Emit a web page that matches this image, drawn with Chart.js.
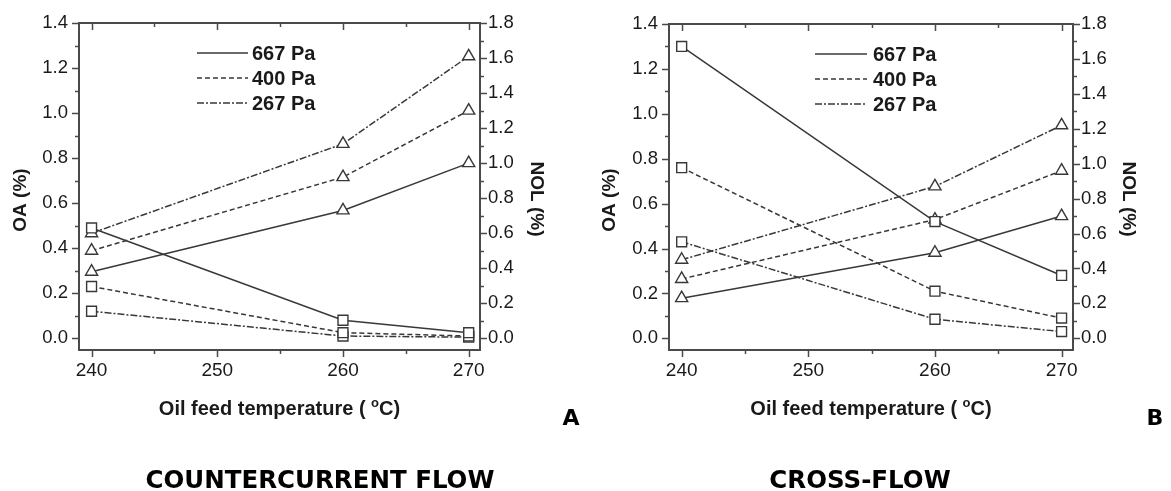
<!DOCTYPE html>
<html>
<head>
<meta charset="utf-8">
<title>OA and NOL vs oil feed temperature</title>
<script src="https://cdn.jsdelivr.net/npm/chart.js@4.4.0/dist/chart.umd.min.js"></script>
<style>
  html, body { margin: 0; padding: 0; background: #fff; }
  #wrap { position: relative; width: 1171px; height: 491px; overflow: hidden; }
  canvas { position: absolute; top: 0; }
  #cA { left: 0; }
  #cB { left: 585px; }
</style>
</head>
<body>
<div id="wrap">
  <canvas id="cA" width="585" height="491"></canvas>
  <canvas id="cB" width="586" height="491"></canvas>
</div>
<script>
// ---- data ----
const temperatures = [240, 260, 270];
const pressures = ['667 Pa', '400 Pa', '267 Pa'];

const xTicks = [240, 250, 260, 270];
const xMinorTicks = [245, 255, 265];
const oaTicks = [0, 0.2, 0.4, 0.6, 0.8, 1.0, 1.2, 1.4];
const oaMinorTicks = [0.1, 0.3, 0.5, 0.7, 0.9, 1.1, 1.3];
const nolTicks = [0, 0.2, 0.4, 0.6, 0.8, 1.0, 1.2, 1.4, 1.6, 1.8];
const nolMinorTicks = [0.1, 0.3, 0.5, 0.7, 0.9, 1.1, 1.3, 1.5, 1.7];

// Countercurrent flow (A)
const oaCounter667 = [0.49, 0.08, 0.025];
const oaCounter400 = [0.23, 0.025, 0.01];
const oaCounter267 = [0.12, 0.01, 0.005];
const nolCounter667 = [0.38, 0.73, 1.00];
const nolCounter400 = [0.50, 0.92, 1.30];
const nolCounter267 = [0.60, 1.11, 1.61];

// Cross-flow (B)
const oaCross667 = [1.30, 0.52, 0.28];
const oaCross400 = [0.76, 0.21, 0.09];
const oaCross267 = [0.43, 0.085, 0.03];
const nolCross667 = [0.23, 0.49, 0.70];
const nolCross400 = [0.34, 0.68, 0.96];
const nolCross267 = [0.45, 0.87, 1.22];

// ---- styling ----
const INK = '#383838';
const AXIS = '#4a4a4a';
const TEXT = '#1a1a1a';
const SANS = "'Liberation Sans', Arial, sans-serif";
const VERD = "'DejaVu Sans', Verdana, sans-serif";
const dashes = [[], [5, 3], [7, 2, 2, 2]];

function pairs(values) {
  return temperatures.map((t, i) => ({ x: t, y: values[i] }));
}

function series(label, values, axis, shape, dash) {
  return {
    label: label,
    data: pairs(values),
    yAxisID: axis,
    borderColor: INK,
    borderWidth: 1.5,
    borderDash: dash,
    pointStyle: shape,
    pointRadius: 7,
    pointHoverRadius: 7,
    pointBorderWidth: 1.4,
    pointBorderColor: INK,
    pointBackgroundColor: '#fff',
    fill: false,
    tension: 0,
    clip: false
  };
}

// Tick marks, legend, axis titles and panel captions
const panelDecor = {
  id: 'panelDecor',
  afterDraw(chart, args, o) {
    const ctx = chart.ctx;
    const a = chart.chartArea;
    const sx = chart.scales.x;
    const sl = chart.scales.yOA;
    const sr = chart.scales.yNOL;
    ctx.save();
    ctx.strokeStyle = AXIS;
    ctx.lineWidth = 1.5;
    const seg = (x1, y1, x2, y2) => {
      ctx.beginPath(); ctx.moveTo(x1, y1); ctx.lineTo(x2, y2); ctx.stroke();
    };
    xTicks.forEach(v => {
      const p = Math.round(sx.getPixelForValue(v)) + 0.5;
      seg(p, a.bottom, p, a.bottom + 7);
      seg(p, a.top, p, a.top + 7);
    });
    xMinorTicks.forEach(v => {
      const p = Math.round(sx.getPixelForValue(v)) + 0.5;
      seg(p, a.bottom, p, a.bottom + 4);
      seg(p, a.top, p, a.top + 4);
    });
    oaTicks.forEach(v => {
      const p = Math.round(sl.getPixelForValue(v)) + 0.5;
      seg(a.left - 7, p, a.left, p);
    });
    oaMinorTicks.forEach(v => {
      const p = Math.round(sl.getPixelForValue(v)) + 0.5;
      seg(a.left - 4, p, a.left, p);
    });
    nolTicks.forEach(v => {
      const p = Math.round(sr.getPixelForValue(v)) + 0.5;
      seg(a.right, p, a.right + 7, p);
    });
    nolMinorTicks.forEach(v => {
      const p = Math.round(sr.getPixelForValue(v)) + 0.5;
      seg(a.right, p, a.right + 4, p);
    });

    // legend (line samples only)
    ctx.fillStyle = TEXT;
    ctx.font = 'bold 20px ' + SANS;
    ctx.textAlign = 'left';
    ctx.textBaseline = 'alphabetic';
    pressures.forEach((name, i) => {
      const y = o.legendY[i];
      ctx.strokeStyle = INK;
      ctx.lineWidth = 1.5;
      ctx.setLineDash(dashes[i]);
      seg(o.legendLine[0], y, o.legendLine[1], y);
      ctx.setLineDash([]);
      ctx.fillText(name, o.legendText, y + 7);
    });

    // y axis titles
    ctx.font = 'bold 19px ' + SANS;
    ctx.textAlign = 'center';
    ctx.save();
    ctx.translate(o.oaTitle[0], o.oaTitle[1]);
    ctx.rotate(-Math.PI / 2);
    ctx.fillText('OA (%)', 0, 7);
    ctx.restore();
    ctx.save();
    ctx.translate(o.nolTitle[0], o.nolTitle[1]);
    ctx.rotate(Math.PI / 2);
    ctx.fillText('NOL (%)', 0, 7);
    ctx.restore();

    // x axis title with superscript degree mark
    const big = 'bold 20px ' + SANS;
    const small = 'bold 13px ' + SANS;
    const p1 = 'Oil feed temperature ( ';
    const p2 = 'o';
    const p3 = 'C)';
    ctx.font = big; const w1 = ctx.measureText(p1).width; const w3 = ctx.measureText(p3).width;
    ctx.font = small; const w2 = ctx.measureText(p2).width;
    let x0 = (a.left + a.right) / 2 - (w1 + w2 + w3) / 2;
    const base = o.xTitleBase;
    ctx.textAlign = 'left';
    ctx.font = big; ctx.fillText(p1, x0, base); x0 += w1;
    ctx.font = small; ctx.fillText(p2, x0, base - 8); x0 += w2;
    ctx.font = big; ctx.fillText(p3, x0, base);

    // panel letter and caption
    ctx.fillStyle = '#000';
    ctx.textAlign = 'center';
    ctx.font = 'bold 22px ' + VERD;
    ctx.fillText(o.letter, o.letterPos[0], o.letterPos[1]);
    ctx.font = 'bold 24.5px ' + VERD;
    ctx.fillText(o.caption, o.captionPos[0], o.captionPos[1]);
    ctx.restore();
  }
};

function makeChart(canvasId, oa, nol, layout) {
  const fixTicks = list => scale => { scale.ticks = list.map(v => ({ value: v })); };
  const xFont = { family: SANS, size: 19 };
  const yFont = { family: SANS, size: 18.5 };
  const border = { display: true, color: AXIS, width: 2 };
  const datasets = [];
  for (let i = 0; i < 3; i++) {
    datasets.push(series('OA ' + pressures[i], oa[i], 'yOA', 'rect', dashes[i]));
    datasets.push(series('NOL ' + pressures[i], nol[i], 'yNOL', 'triangle', dashes[i]));
  }
  return new Chart(document.getElementById(canvasId), {
    type: 'line',
    data: { datasets: datasets },
    plugins: [panelDecor],
    options: {
      responsive: false,
      animation: false,
      devicePixelRatio: 1,
      layout: { padding: { top: layout.top, left: 0, right: 0, bottom: 0 }, autoPadding: false },
      plugins: {
        legend: { display: false },
        tooltip: { enabled: false },
        panelDecor: layout.decor
      },
      scales: {
        x: {
          type: 'linear', position: 'bottom', min: 239, max: 270.9,
          afterBuildTicks: fixTicks(xTicks),
          afterFit: s => { s.height = layout.height - layout.bottom; },
          grid: { display: false, drawTicks: false },
          border: border,
          ticks: { font: xFont, color: TEXT, padding: 9, callback: v => String(v) }
        },
        xTop: {
          type: 'linear', position: 'top', min: 239, max: 270.9,
          afterFit: s => { s.height = 0; },
          grid: { display: false, drawTicks: false },
          border: border,
          ticks: { display: false }
        },
        yOA: {
          type: 'linear', position: 'left', min: -0.052, max: 1.4,
          afterBuildTicks: fixTicks(oaTicks),
          afterFit: s => { s.width = layout.left; },
          grid: { display: false, drawTicks: false },
          border: border,
          ticks: { font: yFont, color: TEXT, padding: 11, callback: v => v.toFixed(1) }
        },
        yNOL: {
          type: 'linear', position: 'right', min: -0.0669, max: 1.8,
          afterBuildTicks: fixTicks(nolTicks),
          afterFit: s => { s.width = layout.width - layout.right; },
          grid: { display: false, drawTicks: false },
          border: border,
          ticks: { font: yFont, color: TEXT, padding: 8, callback: v => v.toFixed(1) }
        }
      }
    }
  });
}

makeChart('cA',
  [oaCounter667, oaCounter400, oaCounter267],
  [nolCounter667, nolCounter400, nolCounter267],
  {
    width: 585, height: 491, left: 79, right: 480, top: 23, bottom: 350,
    decor: {
      legendY: [53, 78, 103], legendLine: [197, 248], legendText: 252,
      oaTitle: [19, 200], nolTitle: [538, 199], xTitleBase: 415,
      letter: 'A', letterPos: [571, 425],
      caption: 'COUNTERCURRENT FLOW', captionPos: [320, 488]
    }
  });

makeChart('cB',
  [oaCross667, oaCross400, oaCross267],
  [nolCross667, nolCross400, nolCross267],
  {
    width: 586, height: 491, left: 84, right: 488, top: 24, bottom: 350,
    decor: {
      legendY: [54, 79, 104], legendLine: [230, 282], legendText: 288,
      oaTitle: [23, 200], nolTitle: [545, 199], xTitleBase: 415,
      letter: 'B', letterPos: [570, 425],
      caption: 'CROSS-FLOW', captionPos: [275, 488]
    }
  });
</script>
</body>
</html>
